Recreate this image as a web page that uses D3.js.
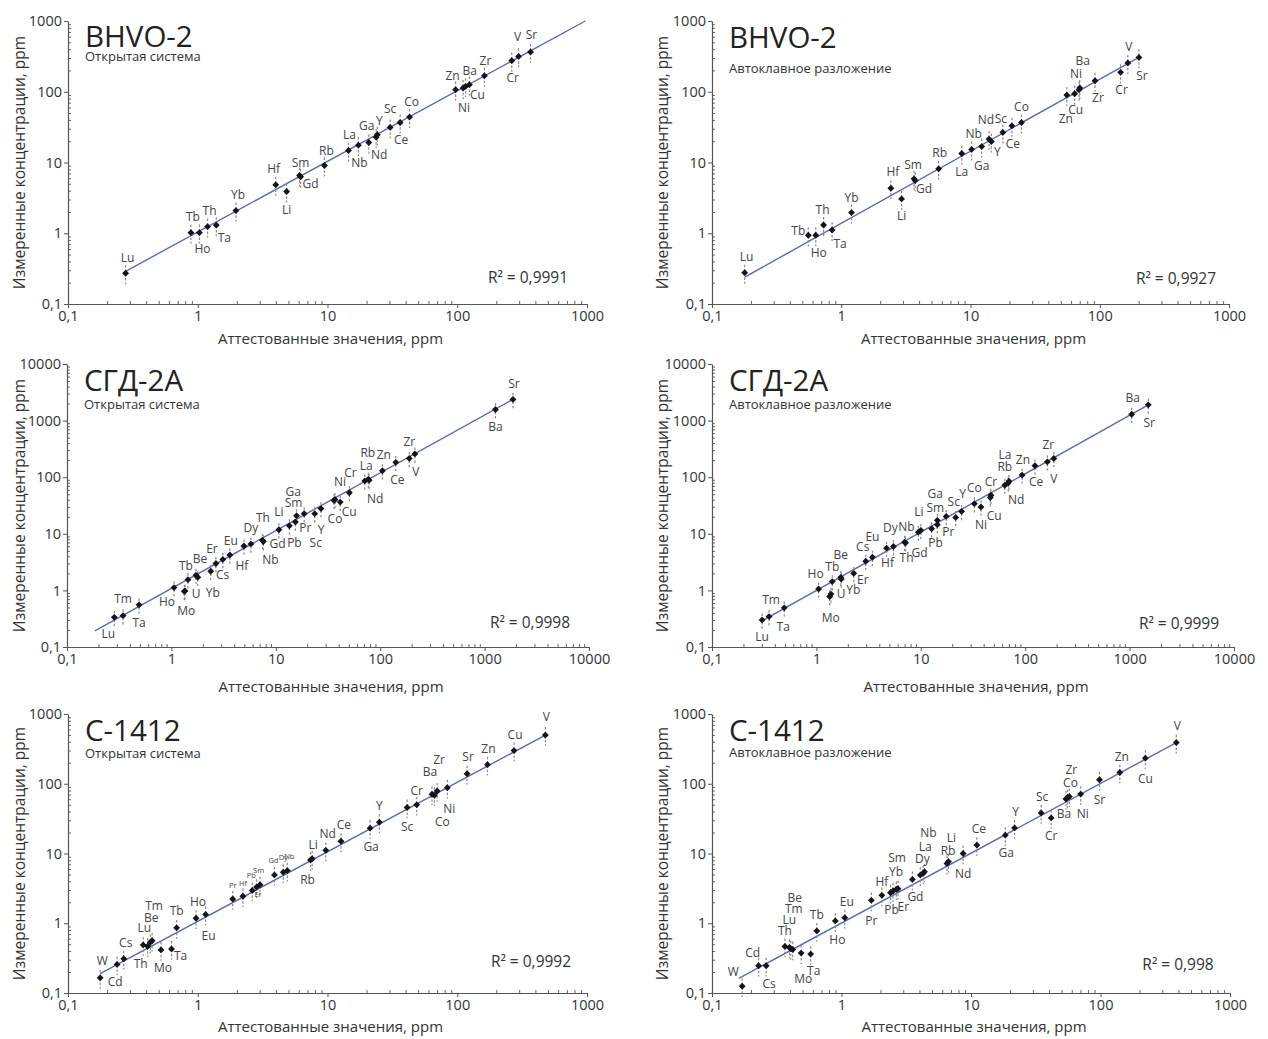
<!DOCTYPE html>
<html><head><meta charset="utf-8">
<script src="https://cdn.jsdelivr.net/npm/d3@7"></script>
<style>body{margin:0;background:#fff}svg{display:block}</style>
</head><body>
<script>
// ================= DATA =================
// Panel 1: BHVO-2, open system
const p1Elements = ["Lu","Tb","Ho","Th","Ta","Yb","Hf","Li","Sm","Gd","Rb","La","Nb","Ga","Y","Nd","Sc","Ce","Co","Zn","Ni","Ba","Cu","Zr","Cr","V","Sr"];
const p1Certified = [0.278,0.886,1.03,1.19,1.39,1.97,3.99,4.84,6.09,6.2,9.47,14.5,17.3,20.8,24.2,23.7,30.4,36.3,42.9,97.1,111,116,124,162,263,297,367];
const p1Measured  = [0.272,1.02,1.02,1.24,1.30,2.09,4.83,3.89,6.55,6.3,9.08,14.8,17.6,19.2,24.7,22.8,31.3,36.8,43.8,107,113,119,126,168,275,316,364];
const p1FitCertified = [0.278, 970];
const p1FitMeasured  = [0.29, 1000];
const p1R2 = "0,9991";

// Panel 2: BHVO-2, autoclave
const p2Elements = ["Lu","Tb","Ho","Th","Ta","Yb","Hf","Li","Sm","Gd","Rb","La","Nb","Ga","Nd","Y","Sc","Ce","Co","Zn","Cu","Ni","Ba","Zr","Cr","V","Sr"];
const p2Certified = [0.179,0.556,0.635,0.73,0.85,1.2,2.42,2.93,3.66,3.73,5.67,8.55,10.2,12.2,13.9,14.5,17.8,20.9,24.8,55.6,63.9,69.2,70,91.9,145,165,201];
const p2Measured  = [0.277,0.937,0.937,1.31,1.11,1.96,4.33,3.06,5.87,5.55,8.13,13.4,15.3,16.8,21.4,19.8,26.6,33,36.8,89.8,93.8,107,113,143,188,255,306];
const p2FitCertified = [0.179, 201];
const p2FitMeasured  = [0.24, 306];
const p2R2 = "0,9927";

// Panel 3: СГД-2А, open system
const p3Elements = ["Lu","Tm","Ta","Ho","Mo","U","Tb","Be","Yb","Cs","Er","Eu","Hf","Dy","Th","Gd","Nb","Li","Pb","Pr","Sm","Ga","Sc","Y","Co","Ni","Cu","Cr","Rb","La","Nd","Ce","Zn","Zr","V","Ba","Sr"];
const p3Certified = [0.284,0.344,0.49,1.06,1.33,1.35,1.44,1.72,1.79,2.38,2.67,3.11,3.63,4.95,5.78,7.45,7.6,10.7,13.5,15.4,15.8,18.7,23.6,27.1,36.1,36.9,41.4,50.7,71.2,76.9,78.3,105,141,190,215,1270,1870];
const p3Measured  = [0.334,0.358,0.555,1.12,0.96,0.98,1.55,1.85,1.71,2.18,2.99,3.53,4.22,6.1,6.63,7.7,7.3,11.8,13.9,16.2,20.9,22.7,22.7,27.9,38.8,40.5,36.3,53.2,86.1,92.1,88.6,130,183,215,258,1571,2371];
const p3FitCertified = [0.185, 1870];
const p3FitMeasured  = [0.193, 2371];
const p3R2 = "0,9998";

// Panel 4: СГД-2А, autoclave
const p4Elements = ["Lu","Tm","Ta","Ho","Mo","U","Tb","Be","Yb","Er","Cs","Eu","Hf","Dy","Th","Gd","Nb","Li","Pb","Pr","Sm","Ga","Sc","Y","Co","Ni","Cu","Cr","Rb","Nd","La","Ce","Zn","Zr","V","Ba","Sr"];
const p4Certified = [0.302,0.352,0.492,1.05,1.34,1.38,1.42,1.71,1.73,2.28,2.97,3.44,4.7,5.47,6.99,7.15,9.48,10.0,12.7,14.4,14.4,17.5,21.6,24.6,32.6,37.7,46.3,47,63.8,68.8,69.9,93.4,124,163,188,1047,1510];
const p4Measured  = [0.301,0.345,0.492,1.06,0.78,0.86,1.43,1.70,1.59,2.0,3.27,3.85,5.57,5.96,7.11,6.92,10.7,11.5,12.3,14.5,17.3,20.3,19.5,24.9,34.1,29.7,43.6,47.9,72.1,79.3,84.9,109,159,187,214,1294,1897];
const p4FitCertified = [0.302, 1510];
const p4FitMeasured  = [0.29, 1897];
const p4R2 = "0,9999";

// Panel 5: С-1412, open system
const p5Elements = ["W","Cd","Cs","Lu","Th","Be","Tm","Mo","Ta","Tb","Ho","Eu","Pr","Hf","Pb","Sm","Er","Gd","Dy","Nb","Li","Rb","Nd","Ce","Ga","Y","Sc","Cr","Ba","Co","Zr","Ni","Sr","Zn","Cu","V"];
const p5Certified = [0.177,0.239,0.269,0.38,0.411,0.431,0.445,0.521,0.628,0.688,0.97,1.15,1.86,2.23,2.63,2.84,3.02,3.9,4.56,4.9,7.62,7.4,9.7,12.7,21.3,25.1,41.1,48.7,63.9,66.7,70,83.9,119,171,274,478];
const p5Measured  = [0.165,0.257,0.31,0.489,0.468,0.532,0.562,0.415,0.428,0.859,1.18,1.34,2.23,2.44,2.96,3.3,3.56,4.93,5.38,5.69,8.4,8.05,11.1,15,23.1,28.1,45.7,49.9,70.6,68.4,78.7,87.7,139,188,299,499];
const p5FitCertified = [0.177, 478];
const p5FitMeasured  = [0.19, 499];
const p5R2 = "0,9992";

// Panel 6: С-1412, autoclave
const p6Elements = ["W","Cd","Cs","Th","Lu","Tm","Be","Mo","Ta","Tb","Ho","Eu","Pr","Hf","Pb","Yb","Er","Sm","Gd","Dy","La","Nb","Li","Rb","Nd","Ce","Ga","Y","Sc","Cr","Ba","Co","Zr","Ni","Sr","Zn","Cu","V"];
const p6Certified = [0.171,0.229,0.262,0.366,0.396,0.406,0.42,0.488,0.578,0.645,0.896,1.06,1.7,2.05,2.39,2.5,2.65,2.73,3.53,4.06,4.27,4.37,6.7,6.53,8.69,11.1,18.4,21.7,34.8,41.6,54.1,55.6,57.5,70.3,98.2,141,222,385];
const p6Measured  = [0.125,0.246,0.246,0.464,0.449,0.43,0.42,0.373,0.361,0.777,1.08,1.2,2.13,2.51,2.74,2.9,3.06,3.12,4.25,4.9,5.18,5.47,7.65,7.2,10.0,13.2,18.3,23.3,38.1,32.4,60.4,63.8,65.5,71.1,114,145,233,389];
const p6FitCertified = [0.161, 385];
const p6FitMeasured  = [0.162, 389];
const p6R2 = "0,998";

// relative uncertainty shown by the dashed error bars
const relativeError = 0.3;

// Axis ticks
const ticks4 = [0.1, 1, 10, 100, 1000];
const ticks4Labels = ["0,1", "1", "10", "100", "1000"];
const ticks5 = [0.1, 1, 10, 100, 1000, 10000];
const ticks5Labels = ["0,1", "1", "10", "100", "1000", "10000"];

const titles = ["BHVO-2", "BHVO-2", "СГД-2А", "СГД-2А", "С-1412", "С-1412"];
const subtitleOpen = "Открытая система";
const subtitleAuto = "Автоклавное разложение";
const xTitle = "Аттестованные значения, ppm";
const yTitle = "Измеренные концентрации, ppm";

// ================= LABEL PLACEMENT (pixel offsets of label centres) =================
const p1LabelOffsets = [[2,-15],[2,-16],[3,16],[2,-16],[8,13],[2,-16],[-2,-16],[0,18],[1,-13],[10,7],[2,-15],[1,-16],[1,18],[-2,-17],[2,-14],[3,18],[0,-19],[1,17],[2,-15],[-3,-14],[1,20],[4,-16],[8,10],[1,-15],[1,17],[-1,-20],[1,-17]];
const p2LabelOffsets = [[2,-16],[-10,-4],[3,18],[-1,-15],[8,14],[0,-15],[2,-16],[0,17],[-1,-14],[9,8],[1,-16],[0,18],[2,-16],[0,19],[-3,-19],[6,10],[-2,-14],[1,18],[0,-16],[-1,24],[1,16],[-3,-16],[3,-27],[3,17],[1,17],[1,-16],[3,18]];
const p3LabelOffsets = [[-6,16],[0,-17],[0,18],[-7,14],[2,19],[11,3],[-2,-14],[4,-16],[15,16],[12,4],[-4,-15],[8,-19],[12,11],[7,-18],[12,-26],[15,4],[7,18],[0,-18],[5,17],[10,6],[-3,-13],[-11,-22],[1,29],[0,21],[1,18],[5,-18],[9,10],[1,-20],[3,-28],[-2,-13],[6,19],[15,9],[-12,-8],[0,-17],[1,18],[0,17],[1,-16]];
const p4LabelOffsets = [[0,17],[2,-17],[-1,19],[-3,-15],[1,21],[10,0],[0,-15],[0,-23],[12,11],[9,6],[-3,-14],[0,-20],[1,15],[-3,-19],[2,16],[14,10],[-12,-5],[-2,-19],[4,14],[11,7],[-2,-13],[-11,-23],[-2,-16],[1,-18],[0,-16],[0,18],[4,18],[0,-13],[0,-18],[8,17],[-4,-26],[14,7],[-12,-6],[1,-17],[0,20],[1,-16],[1,18]];
const p5LabelOffsets = [[2,-17],[-2,17],[2,-16],[1,-17],[-7,18],[1,-25],[2,-35],[2,18],[9,7],[0,-17],[2,-16],[3,21],[0,-14],[0,-13],[-1,-15],[2,-17],[-2,10],[-1,-15],[0,-15],[2,-14],[1,-14],[-3,20],[2,-17],[3,-16],[1,19],[0,-16],[0,19],[0,-14],[-2,-22],[8,27],[2,-31],[2,21],[1,-17],[1,-16],[1,-16],[1,-18]];
const p6LabelOffsets = [[-9,-14],[-6,-13],[3,18],[0,-16],[0,-28],[3,-40],[2,-52],[2,26],[3,17],[0,-16],[2,19],[2,-16],[0,20],[0,-14],[1,17],[3,-19],[7,17],[-1,-31],[3,17],[2,-16],[2,-27],[4,-39],[3,-24],[1,-13],[0,20],[2,-16],[1,18],[1,-16],[1,-16],[0,18],[-2,15],[3,-15],[2,-27],[2,20],[0,20],[2,-16],[0,21],[1,-17]];
const p5SmallLabels = ["Pr","Hf","Pb","Sm","Er","Gd","Dy","Nb"];

// ================= LAYOUT =================
const W = 1268, H = 1039;
const panels = [
  {els:p1Elements, cert:p1Certified, meas:p1Measured, fitC:p1FitCertified, fitM:p1FitMeasured, r2:p1R2, offs:p1LabelOffsets, small:[],
   title:titles[0], sub:subtitleOpen, ticks:ticks4, tickLabels:ticks4Labels, x0:68, x1:587, yTop:21, yBot:304, titleY:47, subY:61, r2X:528, r2Y:283, yTitleX:20, xTitleY:344},
  {els:p2Elements, cert:p2Certified, meas:p2Measured, fitC:p2FitCertified, fitM:p2FitMeasured, r2:p2R2, offs:p2LabelOffsets, small:[],
   title:titles[1], sub:subtitleAuto, ticks:ticks4, tickLabels:ticks4Labels, x0:712, x1:1229, yTop:21, yBot:304, titleY:48, subY:73, r2X:1176, r2Y:284, yTitleX:663, xTitleY:344},
  {els:p3Elements, cert:p3Certified, meas:p3Measured, fitC:p3FitCertified, fitM:p3FitMeasured, r2:p3R2, offs:p3LabelOffsets, small:[],
   title:titles[2], sub:subtitleOpen, ticks:ticks5, tickLabels:ticks5Labels, x0:67, x1:589, yTop:364, yBot:647, titleY:391, subY:409, r2X:530, r2Y:628, yTitleX:20, xTitleY:692},
  {els:p4Elements, cert:p4Certified, meas:p4Measured, fitC:p4FitCertified, fitM:p4FitMeasured, r2:p4R2, offs:p4LabelOffsets, small:[],
   title:titles[3], sub:subtitleAuto, ticks:ticks5, tickLabels:ticks5Labels, x0:712, x1:1234, yTop:364, yBot:647, titleY:391, subY:409, r2X:1179, r2Y:629, yTitleX:663, xTitleY:692},
  {els:p5Elements, cert:p5Certified, meas:p5Measured, fitC:p5FitCertified, fitM:p5FitMeasured, r2:p5R2, offs:p5LabelOffsets, small:p5SmallLabels,
   title:titles[4], sub:subtitleOpen, ticks:ticks4, tickLabels:ticks4Labels, x0:68, x1:587, yTop:714, yBot:993, titleY:741, subY:758, r2X:531, r2Y:967, yTitleX:20, xTitleY:1032},
  {els:p6Elements, cert:p6Certified, meas:p6Measured, fitC:p6FitCertified, fitM:p6FitMeasured, r2:p6R2, offs:p6LabelOffsets, small:[],
   title:titles[5], sub:subtitleAuto, ticks:ticks4, tickLabels:ticks4Labels, x0:712, x1:1230, yTop:714, yBot:993, titleY:741, subY:757, r2X:1178, r2Y:970, yTitleX:663, xTitleY:1032}
];

const FONT = "'Open Sans', 'Noto Sans', sans-serif";
const svg = d3.select("body").append("svg").attr("width", W).attr("height", H)
  .style("font-family", FONT);

function minorTicks(max) {
  const out = [];
  for (let d = 0.1; d < max * 0.999; d *= 10)
    for (let k = 2; k <= 9; k++) out.push(d * k);
  return out;
}

panels.forEach(p => {
  const max = p.ticks[p.ticks.length - 1];
  const x = d3.scaleLog().domain([0.1, max]).range([p.x0, p.x1]);
  const y = d3.scaleLog().domain([0.1, max]).range([p.yBot, p.yTop]);
  const g = svg.append("g");

  // minor ticks
  g.append("g").attr("transform", `translate(0,${p.yBot})`)
    .call(d3.axisTop(x).tickValues(minorTicks(max)).tickFormat("").tickSizeInner(3).tickSizeOuter(0))
    .call(s => s.select(".domain").remove())
    .call(s => s.selectAll("line").attr("stroke", "#666"));
  g.append("g").attr("transform", `translate(${p.x0},0)`)
    .call(d3.axisRight(y).tickValues(minorTicks(max)).tickFormat("").tickSizeInner(3).tickSizeOuter(0))
    .call(s => s.select(".domain").remove())
    .call(s => s.selectAll("line").attr("stroke", "#666"));

  // major axes
  const xa = g.append("g").attr("transform", `translate(0,${p.yBot})`)
    .call(d3.axisBottom(x).tickValues(p.ticks).tickFormat((d, i) => p.tickLabels[i]).tickSizeInner(4).tickSizeOuter(0).tickPadding(3));
  const ya = g.append("g").attr("transform", `translate(${p.x0},0)`)
    .call(d3.axisLeft(y).tickValues(p.ticks).tickFormat((d, i) => p.tickLabels[i]).tickSizeInner(4).tickSizeOuter(0).tickPadding(2));
  [xa, ya].forEach(a => {
    a.select(".domain").attr("stroke", "#555").attr("stroke-width", 1.2);
    a.selectAll("line").attr("stroke", "#555");
    a.selectAll("text").attr("font-family", FONT).attr("font-size", 14.5).attr("fill", "#333");
  });

  // axis titles
  g.append("text").attr("x", (p.x0 + p.x1) / 2 + 3).attr("y", p.xTitleY)
    .attr("text-anchor", "middle").attr("font-size", 15).attr("fill", "#333").text(xTitle);
  g.append("text").attr("transform", `translate(${p.yTitleX},${(p.yTop + p.yBot) / 2}) rotate(-90)`)
    .attr("text-anchor", "middle").attr("dy", "0.35em").attr("font-size", 15.5).attr("fill", "#333").text(yTitle);

  // panel title & subtitle
  g.append("text").attr("x", p.x0 + 17).attr("y", p.titleY).attr("font-size", 29.5).attr("fill", "#222").text(p.title);
  g.append("text").attr("x", p.x0 + 17).attr("y", p.subY).attr("font-size", 13).attr("fill", "#333").text(p.sub);

  // R²
  g.append("text").attr("x", p.r2X).attr("y", p.r2Y).attr("text-anchor", "middle")
    .attr("font-size", 15.5).attr("fill", "#333").text("R² = " + p.r2);

  // fit line
  const fit = p.fitC.map((c, i) => [c, p.fitM[i]]);
  g.append("path").datum(fit)
    .attr("d", d3.line().x(d => x(d[0])).y(d => y(d[1])))
    .attr("stroke", "#5c6cb4").attr("stroke-width", 1.4).attr("fill", "none");

  const pts = p.els.map((e, i) => ({el: e, c: p.cert[i], m: p.meas[i], off: p.offs[i]}));

  // error bars
  g.selectAll(".err").data(pts).join("line")
    .attr("x1", d => x(d.c)).attr("x2", d => x(d.c))
    .attr("y1", d => y(d.m * (1 + relativeError))).attr("y2", d => y(d.m * (1 - relativeError)))
    .attr("stroke", "#8a8a8a").attr("stroke-width", 1.2).attr("stroke-dasharray", "2.5,1.8");

  // points
  g.selectAll(".pt").data(pts).join("path")
    .attr("transform", d => `translate(${x(d.c)},${y(d.m)})`)
    .attr("d", d3.symbol(d3.symbolDiamond2, 30))
    .attr("fill", "#151515");

  // labels
  g.selectAll(".lbl").data(pts).join("text")
    .attr("x", d => x(d.c) + d.off[0])
    .attr("y", d => y(d.m) + d.off[1])
    .attr("dy", "0.35em")
    .attr("text-anchor", "middle")
    .attr("font-size", d => p.small.includes(d.el) ? 7.5 : 12)
    .attr("fill", "#444")
    .text(d => d.el);
});
</script>
</body></html>
